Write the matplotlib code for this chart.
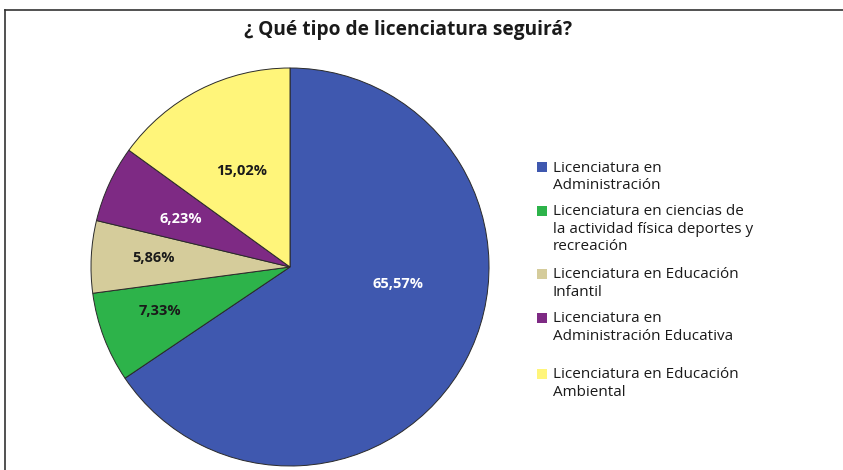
import matplotlib
matplotlib.use("Agg")
import matplotlib.pyplot as plt
from matplotlib.patches import Rectangle
from matplotlib.lines import Line2D
import numpy as np

plt.rcParams['font.family'] = ['Open Sans', 'DejaVu Sans']

titulo = "¿ Qué tipo de licenciatura seguirá?"
carreras = ["Licenciatura en\nAdministración",
            "Licenciatura en ciencias de\nla actividad física deportes y\nrecreación",
            "Licenciatura en Educación\nInfantil",
            "Licenciatura en\nAdministración Educativa",
            "Licenciatura en Educación\nAmbiental"]
porcentajes = [65.57, 7.33, 5.86, 6.23, 15.02]
etiquetas = ["65,57%", "7,33%", "5,86%", "6,23%", "15,02%"]

colores = ["#3F58AF", "#2DB34A", "#D5CC9B", "#7E2A84", "#FFF57A"]
color_txt = ["white", "#1a1a1a", "#1a1a1a", "white", "#1a1a1a"]
# where the percent labels sit: (distance from centre, angle shift in degrees)
pos_txt = [(0.55, 19), (0.69, -2), (0.69, -1), (0.60, 1), (0.54, 0)]
# legend layout in pixels from the top: first-line y of each entry
leyenda_y = [167, 211, 274, 318, 374]
paso_linea = 17.5

W, H = 843, 470
fig = plt.figure(figsize=(W / 100, H / 100), dpi=100)
cx, cy, r = 290, 267, 199
ax = fig.add_axes([(cx - r) / W, (H - cy - r) / H, 2 * r / W, 2 * r / H])

wedges, _ = ax.pie(porcentajes, colors=colores, startangle=90, counterclock=False,
                   radius=1.0, wedgeprops=dict(edgecolor="#2a2a2a", linewidth=0.7))
ax.set_xlim(-1, 1)
ax.set_ylim(-1, 1)
ax.set_aspect("equal")
ax.axis("off")

for w, txt, c, (d, da) in zip(wedges, etiquetas, color_txt, pos_txt):
    ang = np.deg2rad((w.theta1 + w.theta2) / 2 + da)
    ax.text(d * np.cos(ang), d * np.sin(ang), txt, ha="center", va="center",
            fontsize=10.5, fontweight="bold", color=c)

fig.text(408 / W, 1 - 30 / H, titulo, ha="center", va="center",
         fontsize=13.8, fontweight="bold", color="#1a1a1a")

# legend: square aligned with the first line of each entry
for nombre, c, y0 in zip(carreras, colores, leyenda_y):
    fig.add_artist(Rectangle((537 / W, 1 - (y0 + 5) / H), 10 / W, 10 / H,
                             transform=fig.transFigure, facecolor=c, edgecolor="none"))
    for j, linea in enumerate(nombre.split("\n")):
        fig.text(553 / W, 1 - (y0 + 4.5 + j * paso_linea) / H, linea, ha="left", va="baseline",
                 fontsize=11, color="#1a1a1a")

# frame lines (top and left only)
fig.add_artist(Line2D([5 / W, 1], [1 - 10 / H, 1 - 10 / H], color="#333333", lw=1.2))
fig.add_artist(Line2D([5 / W, 5 / W], [0, 1 - 10 / H], color="#333333", lw=1.2))

fig.savefig("out.png", dpi=100)
